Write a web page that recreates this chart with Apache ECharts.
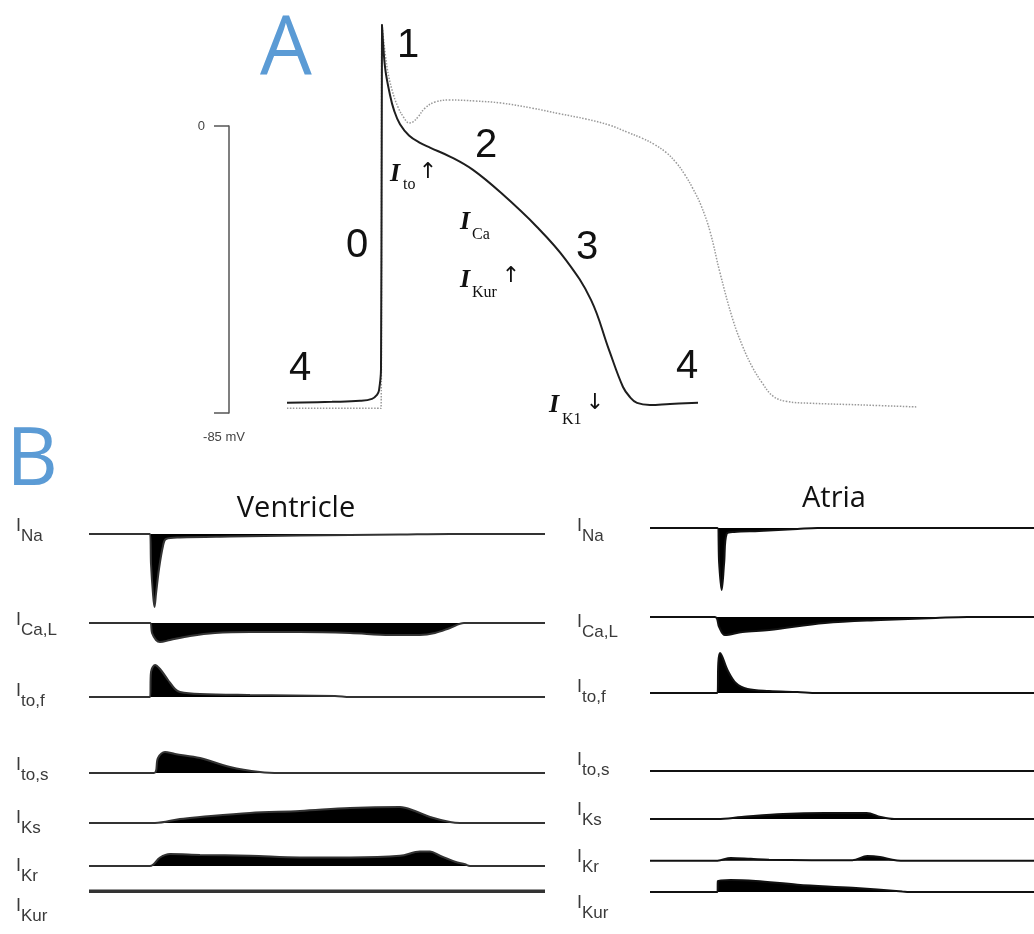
<!DOCTYPE html>
<html>
<head>
<meta charset="utf-8">
<style>
html, body { margin: 0; padding: 0; background: #fff; }
#main { width: 1034px; height: 934px; }
</style>
<script src="https://cdn.jsdelivr.net/npm/echarts@6/dist/echarts.min.js"></script>
</head>
<body>
<div id="main"></div>
<script>
// Panel A: membrane potential, [time ms from upstroke, mV]
const atrialAP = [
	[-95, -82.0], [-50, -81.7], [-22, -81.4], [-10, -80.8], [-5, -79.6], [-3, -78.3], [-1, -72], [0, 30],
	[3, 17.5], [8, 9.2], [12, 4.7], [18, 0.5], [27, -2.8], [38, -5.0], [48, -6.4], [69, -9.2],
	[91, -13], [119, -19.8], [155, -29.9], [184, -39.7], [209, -51.5], [227, -66.3], [241, -77.3],
	[248, -80.3], [255, -82.0], [268, -82.6], [288, -82.3], [316, -82.0]
]
const ventricularAP = [
	[-95, -83.6], [-1, -83.6], [0, 30], [5, 17.5], [10, 10.7], [16, 5.6], [22, 2.4], [27, 0.9],
	[31, 1.2], [36, 2.7], [43, 5.3], [53, 7.1], [68, 7.7], [93, 7.4], [119, 6.8], [150, 5.3],
	[178, 3.6], [205, 2.0], [228, 0.2], [245, -1.8], [260, -3.6], [272, -5.4], [284, -7.8],
	[294, -10.8], [303, -14.5], [311, -18.6], [319, -23.5], [328, -31.2], [338, -43.5], [351, -57.5],
	[361, -65.5], [370, -71.2], [380, -76], [391, -80.0], [405, -81.6], [428, -82.1], [478, -82.6],
	[535, -83.2]
]

// Panel B: relative currents (outward up, inward down), [time ms, current]
const ventINa = [[-61, 0], [0, 0], [1, -30], [3, -60], [4.5, -73], [6, -60], [9, -35], [13, -12], [16, -5], [30, -3.5], [80, -2.5], [150, -1.5], [250, -0.5], [300, 0], [395, 0]]
const ventICaL = [[-61, 0], [0, 0], [2, -10], [6, -17], [10, -19], [20, -17], [40, -13], [65, -10], [100, -9], [150, -9], [200, -10], [240, -12], [270, -12], [285, -10], [300, -5], [314, 0], [395, 0]]
const ventItof = [[-61, 0], [0, 0], [1, 25], [5, 32], [10, 28], [18, 17], [25, 8], [30, 5], [50, 3], [100, 2], [185, 1], [200, 0], [395, 0]]
const ventItos = [[-61, 0], [4, 0], [8, 15], [15, 21], [25, 19], [50, 15], [80, 6], [110, 1], [130, 0], [395, 0]]
const ventIKs = [[-61, 0], [5, 0], [30, 4], [50, 6], [100, 10], [150, 12], [200, 15], [250, 16], [265, 12], [280, 6], [300, 1], [310, 0], [395, 0]]
const ventIKr = [[-61, 0], [0, 0], [10, 10], [20, 14], [50, 13], [100, 12], [150, 10], [200, 10], [250, 12], [270, 17], [280, 17], [290, 12], [305, 5], [315, 2], [320, 0], [395, 0]]
const ventIKur = [[-61, 0], [395, 0]]

const atrINa = [[-81, 0], [0, 0], [2, -35], [5, -62], [8, -35], [11, -6], [20, -4], [50, -3], [96, -1], [120, 0], [380, 0]]
const atrICaL = [[-81, 0], [-3, 0], [2, -10], [9, -18], [30, -15], [62, -13], [129, -6], [196, -3], [262, -1], [300, 0], [380, 0]]
const atrItof = [[-81, 0], [0, 0], [1, 30], [3, 40], [12, 23], [22, 10], [36, 4], [62, 2], [96, 1], [120, 0], [380, 0]]
const atrItos = [[-81, 0], [380, 0]]
const atrIKs = [[-81, 0], [0, 0], [29, 2], [79, 5], [129, 6], [179, 6], [196, 2], [212, 0], [380, 0]]
const atrIKr = [[-81, 0], [0, 0], [16, 3], [40, 2], [62, 1], [162, 0.5], [180, 5], [195, 4], [210, 1], [220, 0], [380, 0]]
const atrIKur = [[-81, 0], [0, 0], [0.5, 21], [16, 23], [46, 21], [96, 14], [162, 8], [222, 1], [230, 0], [380, 0]]

const currentNames = ['Na', 'Ca,L', 'to,f', 'to,s', 'Ks', 'Kr', 'Kur']
const ventTraces = [ventINa, ventICaL, ventItof, ventItos, ventIKs, ventIKr, ventIKur]
const atrTraces = [atrINa, atrICaL, atrItof, atrItos, atrIKs, atrIKr, atrIKur]

// layout (pixel rows of each trace baseline and its label)
const ventBaseY = [534, 623, 697, 773, 823, 872, 910]
const atrBaseY = [528, 617, 693, 771, 819, 864, 911]
const ventLabelY = [526, 620, 691, 765, 818, 866, 906]
const atrLabelY = [526, 622, 687, 760, 810, 857, 903]

const grids = []
const xAxes = []
const yAxes = []
const series = []
const graphics = []

// panel A
grids.push({ left: 287, right: 117, top: 24.7, bottom: 521 })
xAxes.push({ gridIndex: 0, type: 'value', min: -95, max: 535, show: false })
yAxes.push({ gridIndex: 0, type: 'value', min: -85, max: 30, show: false })
series.push({
	name: 'Ventricle AP', type: 'line', xAxisIndex: 0, yAxisIndex: 0, data: ventricularAP,
	symbol: 'none', smooth: 0.4,
	lineStyle: { color: '#999', width: 1.5, type: 'dotted' }
})
series.push({
	name: 'Atrial AP', type: 'line', xAxisIndex: 0, yAxisIndex: 0, data: atrialAP,
	symbol: 'none', smooth: 0.4,
	lineStyle: { color: '#1e1e1e', width: 2 }
})

// scale bar 0 .. -85 mV
grids.push({ left: 229, width: 10, top: 126, bottom: 521 })
xAxes.push({ gridIndex: 1, type: 'value', min: 0, max: 1, show: false })
yAxes.push({
	gridIndex: 1, type: 'value', min: -85, max: 0, interval: 85,
	axisLine: { show: true, lineStyle: { color: '#555', width: 1.5 } },
	axisTick: { show: true, length: 15, lineStyle: { color: '#555', width: 1.5 } },
	axisLabel: { formatter: v => (v === 0 ? '0' : ''), color: '#444', fontSize: 13, fontFamily: 'Liberation Sans', margin: 24 },
	splitLine: { show: false }
})

function addColumn(traces, baseYs, left, width, tMin, tMax, color) {
	traces.forEach((data, i) => {
		const gi = grids.length
		grids.push({ left: left, width: width, top: baseYs[i] - 40, height: 120 })
		xAxes.push({ gridIndex: gi, type: 'value', min: tMin, max: tMax, show: false })
		yAxes.push({ gridIndex: gi, type: 'value', min: -80, max: 40, show: false })
		series.push({
			name: 'I' + currentNames[i], type: 'line', xAxisIndex: gi, yAxisIndex: gi, data: data,
			symbol: 'none', smooth: 0.35,
			lineStyle: { color: color, width: currentNames[i] === 'Kur' && color === '#333' ? 3.5 : 2 },
			areaStyle: { color: '#000', opacity: 1 }
		})
	})
}
addColumn(ventTraces, ventBaseY, 89, 456, -61, 395, '#333')
addColumn(atrTraces, atrBaseY, 650, 461, -81, 380, '#111')

function currentLabel(x, y, sub) {
	graphics.push({ type: 'text', x: x, y: y, style: { text: 'I', font: '18px "Liberation Sans"', fill: '#3a3a3a', align: 'left', verticalAlign: 'middle' } })
	graphics.push({ type: 'text', x: x + 5, y: y + 10, style: { text: sub, font: '17px "Liberation Sans"', fill: '#3a3a3a', align: 'left', verticalAlign: 'middle' } })
}
currentNames.forEach((n, i) => {
	currentLabel(16, ventLabelY[i], n)
	currentLabel(577, atrLabelY[i], n)
})

function text(x, y, t, font, fill, align) {
	graphics.push({ type: 'text', x: x, y: y, style: { text: t, font: font, fill: fill || '#111', align: align || 'center', verticalAlign: 'middle' } })
}
// panel letters and titles
text(286, 52, 'A', '82px "Open Sans"', '#5b9bd5')
text(32, 462, 'B', '80px "Open Sans"', '#5b9bd5')
text(296, 509, 'Ventricle', '29px "Open Sans"', '#111')
text(834, 499, 'Atria', '29px "Open Sans"', '#111')
text(224, 437, '-85 mV', '13px "Liberation Sans"', '#444')

// AP phase numbers
const phaseFont = '40px "Liberation Sans"'
text(408, 46, '1', phaseFont)
text(486, 146, '2', phaseFont)
text(587, 248, '3', phaseFont)
text(357, 246, '0', phaseFont)
text(300, 369, '4', phaseFont)
text(687, 367, '4', phaseFont)

// current annotations in panel A
const iFont = 'italic bold 26px "Liberation Serif"'
const subFont = '16px "Liberation Serif"'
const arrowFont = '22px "DejaVu Sans"'
text(390, 174, 'I', iFont, '#111', 'left')
text(403, 185, 'to', subFont, '#111', 'left')
text(428, 172, '↑', arrowFont)
text(460, 222, 'I', iFont, '#111', 'left')
text(472, 235, 'Ca', subFont, '#111', 'left')
text(460, 280, 'I', iFont, '#111', 'left')
text(472, 293, 'Kur', subFont, '#111', 'left')
text(511, 276, '↑', arrowFont)
text(549, 405, 'I', iFont, '#111', 'left')
text(562, 420, 'K1', subFont, '#111', 'left')
text(595, 403, '↓', arrowFont)

const chart = echarts.init(document.getElementById('main'))
chart.setOption({
	backgroundColor: '#fff',
	animation: false,
	grid: grids,
	xAxis: xAxes,
	yAxis: yAxes,
	series: series,
	graphic: graphics
})
</script>
</body>
</html>
